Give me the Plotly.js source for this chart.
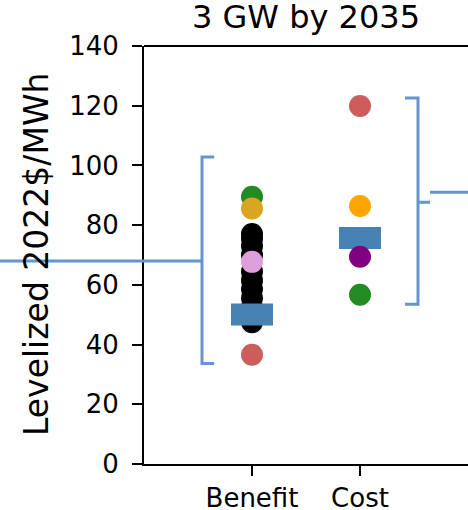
<!DOCTYPE html>
<html>
<head>
<meta charset="utf-8">
<script src="https://cdn.plot.ly/plotly-3.0.1.min.js"></script>
<style>html,body{margin:0;padding:0;background:#fff;} #chart{width:468px;height:510px;}</style>
</head>
<body>
<div id="chart"></div>
<script>
// ---- data ----
const categories = ["Benefit", "Cost"];
const yTickVals = [0, 20, 40, 60, 80, 100, 120, 140];
const benefitBlack = [77, 75.5, 73, 70, 64.5, 61.5, 58.5, 55.5, 52.5, 49.5, 47.5];
const benefitMedian = 50.1;
const costMedian = 75.7;
const benefitStudy = [36.6, 89.5, 85.6, 67.7];
const benefitStudyColors = ["#cd5c5c", "#228b22", "#daa520", "#dda0dd"];
const costStudy = [119.9, 86.4, 69.4, 56.7];
const costStudyColors = ["#cd5c5c", "#ffa500", "#800080", "#228b22"];
// bracket ranges (data units)
const benefitBracket = {lo: 33.7, hi: 102.8, mid: 68.0};
const costBracket = {lo: 53.5, hi: 122.6, mid: 87.7, line: 91.0};

const traces = [
  {x: benefitBlack.map(() => categories[0]), y: benefitBlack, type: "scatter", mode: "markers",
   marker: {color: "black", size: 22}, hoverinfo: "skip"},
  {x: categories, y: [benefitMedian, costMedian], type: "scatter", mode: "markers",
   marker: {symbol: "line-ew-open", size: 30, color: "#4682b4", line: {color: "#4682b4", width: 22}}, hoverinfo: "skip"},
  {x: benefitStudy.map(() => categories[0]), y: benefitStudy, type: "scatter", mode: "markers",
   marker: {color: benefitStudyColors, size: 22}, hoverinfo: "skip"},
  {x: costStudy.map(() => categories[1]), y: costStudy, type: "scatter", mode: "markers",
   marker: {color: costStudyColors, size: 22}, hoverinfo: "skip"}
];

const bc = "#6495cd";
const bw = 3;
const shapes = [
  {type: "line", xref: "paper", yref: "paper", x0: 0, x1: 1, y0: 1, y1: 1, line: {color: "black", width: 2}},
  {type: "path", xref: "x", yref: "y",
   path: `M -0.35,${benefitBracket.hi} L -0.463,${benefitBracket.hi} L -0.463,${benefitBracket.lo} L -0.35,${benefitBracket.lo}`,
   line: {color: bc, width: bw}},
  {type: "line", xref: "paper", yref: "y", x0: -0.5, x1: (1 - 0.463) / 3, y0: benefitBracket.mid, y1: benefitBracket.mid,
   line: {color: bc, width: bw}},
  {type: "path", xref: "x", yref: "y",
   path: `M 1.417,${costBracket.hi} L 1.537,${costBracket.hi} L 1.537,${costBracket.lo} L 1.417,${costBracket.lo} M 1.537,${costBracket.mid} L 1.648,${costBracket.mid}`,
   line: {color: bc, width: bw}},
  {type: "line", xref: "paper", yref: "y", x0: (1 + 1.648) / 3, x1: 1.2, y0: costBracket.line, y1: costBracket.line,
   line: {color: bc, width: bw}}
];

const font = "DejaVu Sans, sans-serif";
const layout = {
  width: 468, height: 510,
  margin: {l: 144, r: 0, t: 46, b: 46},
  paper_bgcolor: "white", plot_bgcolor: "white",
  showlegend: false,
  font: {family: font, color: "black"},
  xaxis: {
    type: "category", range: [-1, 2], showgrid: false, zeroline: false,
    showline: true, linecolor: "black", linewidth: 2,
    ticks: "outside", ticklen: 10, tickwidth: 2, tickcolor: "black",
    tickfont: {size: 26, family: font, color: "black"}, fixedrange: true
  },
  yaxis: {
    range: [0, 140], tickvals: yTickVals, ticktext: yTickVals.map(String),
    showgrid: false, zeroline: false,
    showline: true, linecolor: "black", linewidth: 2,
    ticks: "outside", ticklen: 10, tickwidth: 2, tickcolor: "black", ticklabelstandoff: 8,
    tickfont: {size: 26, family: font, color: "black"}, fixedrange: true
  },
  shapes: shapes,
  annotations: [
    {text: "3 GW by 2035", xref: "paper", yref: "paper", x: 0.5, y: 1, yshift: 8, xanchor: "center", yanchor: "bottom",
     showarrow: false, font: {size: 32, family: font, color: "black"}},
    {text: "Levelized 2022$/MWh", xref: "paper", yref: "paper", x: 0, xshift: -108, y: 0.5, textangle: -90,
     xanchor: "center", yanchor: "middle", showarrow: false, font: {size: 33, family: font, color: "black"}}
  ]
};

Plotly.newPlot("chart", traces, layout, {displayModeBar: false, staticPlot: true});
</script>
</body>
</html>
